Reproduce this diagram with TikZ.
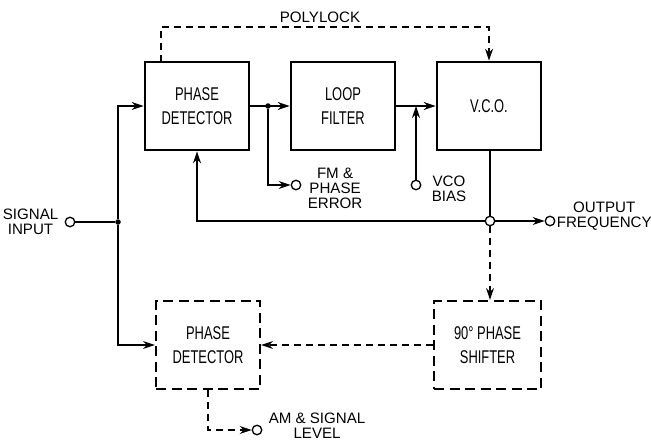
\documentclass[tikz,border=0pt]{standalone}
\usepackage{fontspec}
\setmainfont{Liberation Sans}
\newfontfamily\boxfont{Liberation Sans}[FakeStretch=0.7]
\usetikzlibrary{arrows.meta,positioning}

\begin{document}
\begin{tikzpicture}[x=0.2mm, y=-0.2mm, node distance=1mm]
        \tikzstyle{block} = [draw, line width=1.5pt, minimum width=20.8mm, minimum height=17.6mm, inner sep=0pt, align=center, font=\boxfont\fontsize{10.5}{13.6}\selectfont];
        \tikzstyle{dblock} = [block, line width=1.3pt, dash pattern=on 2mm off 1.1mm];
        \tikzstyle{wire} = [line width=0.75pt];
        \tikzstyle{arr} = [wire, -{Stealth[length=2.4mm,width=1.6mm]}];
        \tikzstyle{darr} = [arr, dash pattern=on 1.4mm off 1mm];
        \tikzstyle{term} = [draw, circle, line width=0.75pt, minimum size=1.9mm, inner sep=0pt, fill=white];
        \tikzstyle{dot} = [circle, fill, inner sep=0pt, minimum size=1.1mm];
        \tikzstyle{note} = [font=\fontsize{8.6}{8.6}\selectfont, align=center, inner sep=0pt];

        \useasboundingbox (0,0) rectangle (651,441);

        % main loop
        \node [block] (pd) at (197,106) {PHASE\\DETECTOR};
        \node [block] (lf) at (343,106) {LOOP\\FILTER};
        \node [block] (vco) at (489,106) {V.C.O.};

        % quadrature branch
        \node [dblock] (pd2) at (208,345) {PHASE\\DETECTOR};
        \node [dblock, minimum width=21.4mm] (ps) at (487.5,345) {90° PHASE\\SHIFTER};

        % terminals and junctions
        \node [term] (in) at (70,222) {};
        \node [dot] (j1) at (118,222) {};
        \node [dot] (j2) at (268,106) {};
        \coordinate (j3) at (416,106);
        \node [term] (fm) at (296,185) {};
        \node [term] (bias) at (416,185) {};
        \node [term] (tap) at (490,221) {};
        \node [term] (out) at (550,221) {};
        \node [term] (am) at (257,430) {};
        \coordinate (pl) at (161,62);

        \node [note, left=1.2mm of in] {SIGNAL\\INPUT};
        \node [note, right=1.2mm of fm, yshift=-0.6mm] {FM \&\\PHASE\\ERROR};
        \node [note, right=2mm of bias, yshift=-0.8mm] {VCO\\BIAS};
        \node [note, right=0.2mm of out, yshift=1mm] {OUTPUT\\FREQUENCY};
        \node [note, right=1.2mm of am, yshift=0.8mm] {AM \& SIGNAL\\LEVEL};
        \node [note] (poly) at (320,17) {POLYLOCK};

        % connections
        \draw [wire] (in) -- (j1);
        \draw [arr] (j1) |- (pd.west);
        \draw [arr] (j1) |- (pd2.west);
        \draw [arr] (pd) -- (lf);
        \draw [arr] (j2) |- (fm);
        \draw [arr] (lf) -- (vco);
        \draw [arr] (bias) -- (j3);
        \draw [wire] (vco.south -| tap) -- (tap);
        \draw [arr] (tap) -- (out);
        \draw [arr] (tap) -| (pd.south);
        \draw [darr] (pl) -- ++(0,-35) -| (vco.north);
        \draw [darr] (tap) -- (ps.north -| tap);
        \draw [darr] (ps.west) -- (pd2.east);
        \draw [darr] (pd2.south) |- (am);
\end{tikzpicture}
\end{document}
